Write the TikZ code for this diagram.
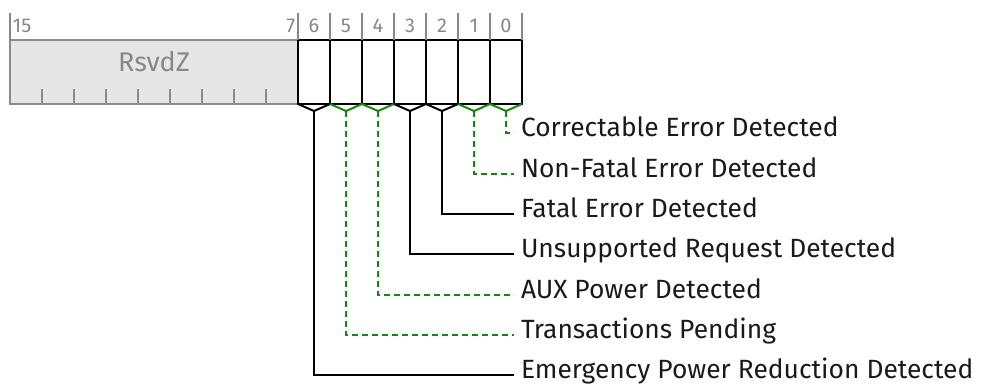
\documentclass[tikz,border=0pt]{standalone}
\usepackage{fontspec}
\setmainfont{Fira Sans}
\definecolor{numgray}{HTML}{888888}
\definecolor{rsvdfill}{HTML}{E6E6E6}
\definecolor{rsvdline}{HTML}{8C8C8C}
\definecolor{dgreen}{HTML}{118811}
\definecolor{txt}{HTML}{1A1A1A}
\begin{document}
\begin{tikzpicture}[x=1pt,y=-1pt,
  cell/.style={draw=black, line width=2pt, fill=white, minimum width=32pt, minimum height=64pt, inner sep=0pt, outer sep=0pt, anchor=north west},
  rsvd/.style={draw=rsvdline, fill=rsvdfill, line width=2.5pt, minimum width=288pt, minimum height=64pt, inner sep=0pt, outer sep=0pt, anchor=north west, text=numgray, font=\fontsize{27}{27}\selectfont},
  rsvdtext/.style={text=numgray, font=\fontsize{27}{27}\selectfont, inner sep=0pt},
  bitnum/.style={text=numgray, font=\fontsize{20}{20}\selectfont, anchor=base, inner sep=0pt},
  divider/.style={draw=numgray, line width=1.2pt},
  tick/.style={draw=rsvdline, line width=1.2pt},
  lbl/.style={anchor=west, font=\fontsize{26.4}{26.4}\selectfont, text=txt, inner xsep=7pt, inner ysep=0pt, text height=0.69em, text depth=0pt, outer sep=0pt},
  solidcon/.style={draw=black, line width=1.8pt},
  dashcon/.style={draw=dgreen, line width=1.8pt, dash pattern=on 6pt off 4pt},
]
\useasboundingbox (0,0) rectangle (991,387);

% reserved field
\node[rsvd] (rz) at (10,40) {};
\node[rsvdtext, anchor=base] (rzt) at (154,72) {RsvdZ};
\foreach \i in {1,...,8}{
  \coordinate (rt\i) at (10+32*\i,103);
  \draw[tick] (rt\i) -- ++(0,-14);
}

% bit cells
\foreach \b [evaluate=\b as \xx using {298+32*(6-\b)}] in {6,5,4,3,2,1,0}{
  \node[cell] (c\b) at (\xx,40) {};
  \coordinate (t\b) at (\xx+16,111);
  \node[bitnum] (n\b) at (\xx+16,33) {\b};
}

% top dividers
\foreach \xx in {10,298,330,362,394,426,458,490,522}{
  \draw[divider] (\xx,13) -- (\xx,40);
}
\node[bitnum, anchor=base west] (n15) at (12.5,33) {15};
\node[bitnum, anchor=base east] (n7) at (295.5,33) {7};

% labels
\node[lbl] (l0) at (514,133) {Correctable Error Detected};
\node[lbl] (l1) at (514,174) {Non-Fatal Error Detected};
\node[lbl] (l2) at (514,214) {Fatal Error Detected};
\node[lbl] (l3) at (514,254) {Unsupported Request Detected};
\node[lbl] (l4) at (514,295) {AUX Power Detected};
\node[lbl] (l5) at (514,335) {Transactions Pending};
\node[lbl] (l6) at (514,375) {Emergency Power Reduction Detected};

% triangles and connectors
\foreach \b in {6,3,2}{
  \draw[draw=black, line width=2pt] (c\b.south west) -- (t\b) -- (c\b.south east);
}
\foreach \b in {5,4,1,0}{
  \draw[draw=dgreen, line width=2pt] (c\b.south west) -- (t\b) -- (c\b.south east);
}
\foreach \b/\s in {6/solidcon,5/dashcon,4/dashcon,3/solidcon,2/solidcon,1/dashcon,0/dashcon}{
  \draw[\s] (t\b) |- (l\b.west);
}
\end{tikzpicture}
\end{document}
